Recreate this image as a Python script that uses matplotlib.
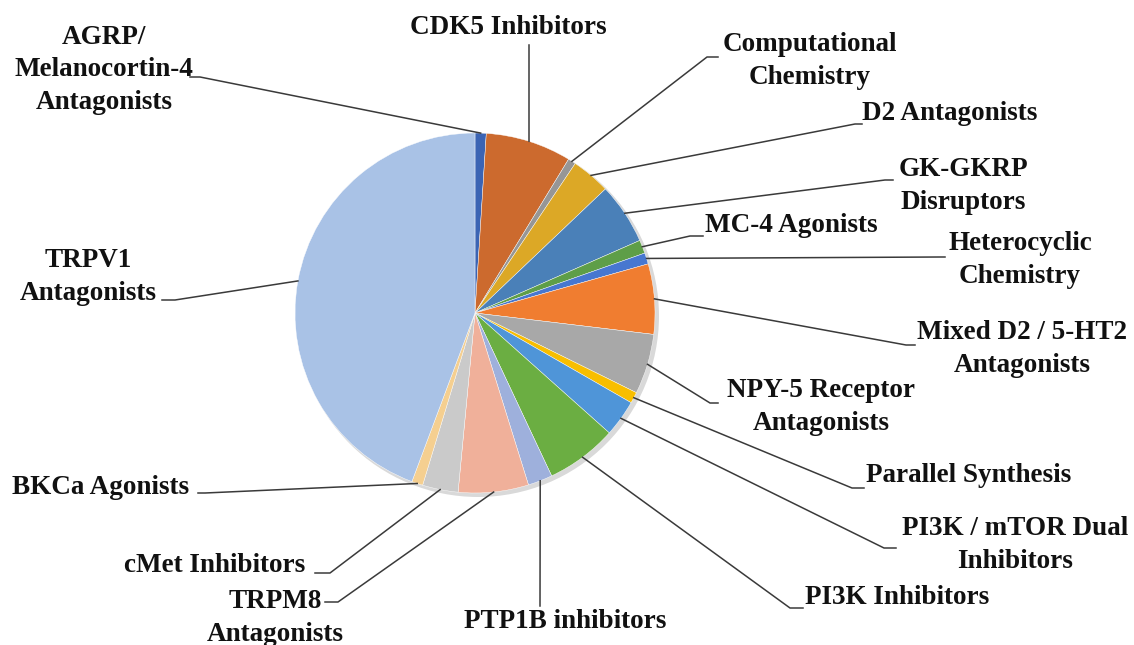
import numpy as np
import matplotlib
matplotlib.use("Agg")
import matplotlib.pyplot as plt
from matplotlib.patches import Circle

# share of compounds per project (%), clockwise from 12 o'clock
labels = ["AGRP/\nMelanocortin-4\nAntagonists", "CDK5 Inhibitors",
          "Computational\nChemistry", "D2 Antagonists", "GK-GKRP\nDisruptors",
          "MC-4 Agonists", "Heterocyclic\nChemistry",
          "Mixed D2 / 5-HT2\nAntagonists", "NPY-5 Receptor\nAntagonists",
          "Parallel Synthesis", "PI3K / mTOR Dual\nInhibitors",
          "PI3K Inhibitors", "PTP1B inhibitors", "TRPM8\nAntagonists",
          "cMet Inhibitors", "BKCa Agonists", "TRPV1\nAntagonists"]
values = [1.0, 7.7, 0.7, 3.5, 5.5, 1.2, 1.0, 6.3, 5.4, 1.0, 3.3, 6.4,
          2.2, 6.3, 3.2, 1.0, 44.3]
colors = ["#3B64B4", "#CC6A2E", "#969696", "#DCA826", "#4A80B8", "#5E9E48",
          "#4777D0", "#F07D30", "#A8A8A8", "#F8BE00", "#4F95D8", "#6BAE42",
          "#9EB0DC", "#F0B09A", "#CACACA", "#F5CF90", "#A9C2E6"]

W, H = 1134, 645
cx, cy, r = 475, 313, 180

# label layout in pixel coords (y down): text x, text y, ha, elbow, stub end
layout = [
    (104, 70, "center", (200, 77), (190, 77)),
    (508, 27, "center", (529, 45), None),
    (810, 61, "center", (707, 57), (718, 57)),
    (862, 113, "left", (855, 124), (862, 124)),
    (963, 186, "center", (885, 180), (893, 180)),
    (705, 225, "left", (690, 236), (703, 236)),
    (1020, 260, "center", (940, 257), (945, 257)),
    (1022, 349, "center", (906, 345), (915, 345)),
    (821, 407, "center", (710, 403), (718, 403)),
    (866, 475, "left", (852, 488), (864, 488)),
    (1015, 545, "center", (884, 548), (896, 548)),
    (805, 597, "left", (790, 608), (803, 608)),
    (565, 622, "center", (540, 606), None),
    (275, 618, "center", (338, 602), (325, 602)),
    (305, 565, "right", (330, 573), (315, 573)),
    (12, 487, "left", (205, 493), (198, 493)),
    (88, 277, "center", (175, 300), (162, 300)),
]

plt.rcParams["font.family"] = ["Liberation Serif", "DejaVu Serif"]
fig = plt.figure(figsize=(W / 100, H / 100), dpi=100)
ax = fig.add_axes([0, 0, 1, 1])

# soft drop shadow
ax.add_patch(Circle((cx + 3, H - cy - 3), r + 1, color="#000000", alpha=0.15, lw=0, zorder=0))

wedges, _ = ax.pie(values, colors=colors, startangle=90, counterclock=False,
                   center=(cx, H - cy), radius=r,
                   wedgeprops=dict(linewidth=0.3, edgecolor="white"))
for w in wedges:
    w.set_zorder(1)

ax.set_xlim(0, W)
ax.set_ylim(0, H)
ax.set_aspect("equal")
ax.axis("off")

for w, lab, (tx, ty, ha, elbow, stub) in zip(wedges, labels, layout):
    mid = np.deg2rad((w.theta1 + w.theta2) / 2)
    x0 = cx + r * np.cos(mid)
    y0 = (H - cy) + r * np.sin(mid)
    xs = [x0, elbow[0]]
    ys = [y0, H - elbow[1]]
    if stub is not None:
        xs.append(stub[0])
        ys.append(H - stub[1])
    ax.plot(xs, ys, color="#3a3a3a", lw=1.1, zorder=2)
    ax.text(tx, H - ty, lab, ha=ha, va="center", multialignment="center",
            fontsize=19.5, fontweight="bold", color="#111111",
            linespacing=1.38, zorder=3)

fig.savefig("out.png", dpi=100)
